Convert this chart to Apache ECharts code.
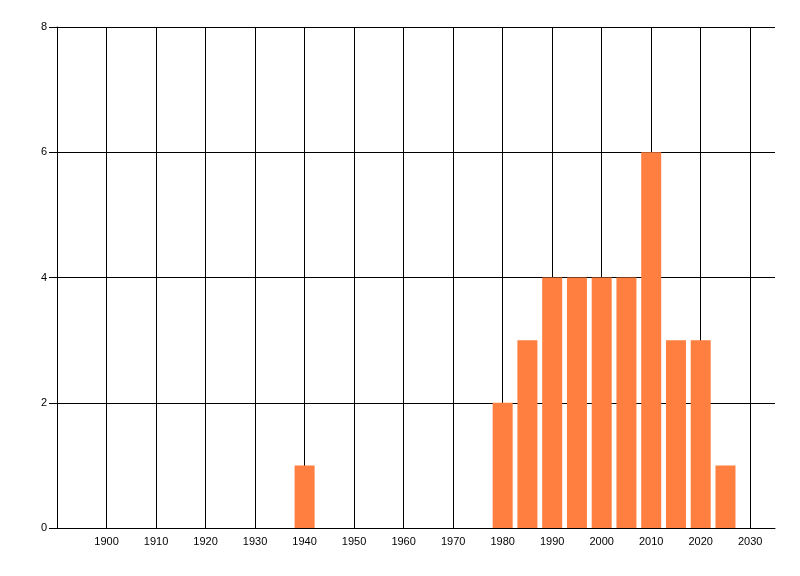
<!DOCTYPE html>
<html>
<head>
<meta charset="utf-8">
<script src="https://cdn.jsdelivr.net/npm/echarts@6/dist/echarts.min.js"></script>
<style>
    html, body { margin: 0; padding: 0; background: #fff; }
    #main { width: 800px; height: 576px; }
</style>
</head>
<body>
<div id="main"></div>
<script>
// years (bar centres) and counts
var years = [1940, 1980, 1985, 1990, 1995, 2000, 2005, 2010, 2015, 2020, 2025];
var counts = [1, 2, 3, 4, 4, 4, 4, 6, 3, 3, 1];
// axis ranges
var xRange = [1890, 2035];
var yRange = [0, 8];

var drawChart = function () {
    var barData = [];
    years.forEach(function (y, i) {
        barData.push([y, counts[i]]);
    });

    var myChart = echarts.init(document.getElementById('main'));
    var font = 'Liberation Sans, Arial, sans-serif';

    var option = {
        animation: false,
        grid: {
            left: 57,
            right: 25,
            top: 27,
            bottom: 48
        },
        xAxis: {
            type: 'value',
            min: xRange[0],
            max: xRange[1],
            interval: 10,
            axisLine: { show: true, lineStyle: { color: '#000', width: 1 } },
            axisTick: { show: false },
            axisLabel: {
                color: '#000',
                fontFamily: font,
                fontSize: 11,
                margin: 8,
                formatter: function (v) {
                    if (v === xRange[0] || v % 10 !== 0) return '';
                    return v;
                }
            },
            splitLine: {
                show: true,
                showMinLine: false,
                showMaxLine: false,
                lineStyle: { color: '#000', width: 1 }
            }
        },
        yAxis: {
            type: 'value',
            min: yRange[0],
            max: yRange[1],
            interval: 2,
            axisLine: { show: true, lineStyle: { color: '#000', width: 1 } },
            axisTick: { show: true, length: 8, lineStyle: { color: '#000' } },
            axisLabel: {
                color: '#000',
                fontFamily: font,
                fontSize: 11,
                margin: 10
            },
            splitLine: {
                show: true,
                showMinLine: false,
                lineStyle: { color: '#000', width: 1 }
            }
        },
        series: [{
            type: 'bar',
            barWidth: 20,
            itemStyle: { color: '#FF7F40' },
            data: barData
        }]
    };

    myChart.setOption(option);
};

drawChart();
</script>
</body>
</html>
